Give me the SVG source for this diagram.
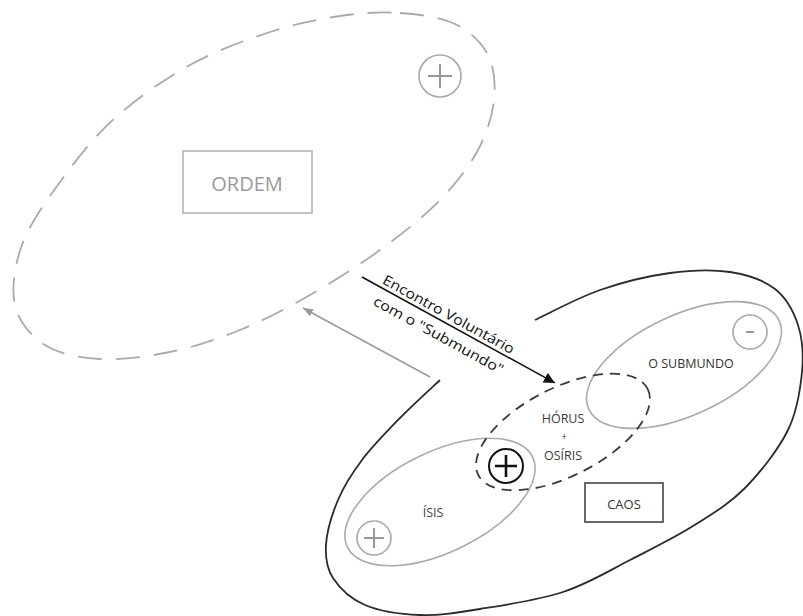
<svg xmlns="http://www.w3.org/2000/svg" width="803" height="616" viewBox="0 0 803 616">
  <defs>
    <style>
      .lbl { font-family: "Open Sans", "Liberation Sans", sans-serif; }
      .soft { fill: none; stroke: #aaaaaa; stroke-width: 1.6; }
      .ink { fill: none; stroke: #2b2b2b; stroke-width: 1.8; }
      .dash-big { fill: none; stroke: #aaaaaa; stroke-width: 1.8; stroke-dasharray: 24 14; }
      .dash-small { fill: none; stroke: #3a3a3a; stroke-width: 1.8; stroke-dasharray: 10 7; }
      .sign-soft { stroke: #999999; stroke-width: 2; fill: none; }
      .sign-ink { stroke: #111111; stroke-width: 2.6; fill: none; }
    </style>
    <marker id="head-ink" viewBox="0 0 10 10" refX="10" refY="5" markerWidth="11" markerHeight="11" markerUnits="userSpaceOnUse" orient="auto">
      <path d="M0,0 L10,5 L0,10 z" fill="#111111"/>
    </marker>
    <marker id="head-soft" viewBox="0 0 10 10" refX="10" refY="5" markerWidth="10" markerHeight="10" markerUnits="userSpaceOnUse" orient="auto">
      <path d="M0,1 L10,5 L0,9 z" fill="#999999"/>
    </marker>
  </defs>

  <rect width="803" height="616" fill="#ffffff"/>

  <!-- Order: dashed egg-shaped field with its positive pole -->
  <g id="ordem">
    <path class="dash-big" d="M400,13 C419.2,14.3 440.3,17 455,24 C469.7,31 481.5,42.3 488,55 C494.5,67.7 495.7,84.2 494,100 C492.3,115.8 487,133.3 478,150 C469,166.7 456.3,183.3 440,200 C423.7,216.7 401.7,234.2 380,250 C358.3,265.8 333.3,281.7 310,295 C286.7,308.3 263.3,320.5 240,330 C216.7,339.5 193.3,347.2 170,352 C146.7,356.8 120.8,360.2 100,359 C79.2,357.8 59.2,354 45,345 C30.8,336 18.8,321.7 15,305 C11.2,288.3 14.5,265.5 22,245 C29.5,224.5 44.5,203.2 60,182 C75.5,160.8 93.3,137.5 115,118 C136.7,98.5 164.2,79.3 190,65 C215.8,50.7 245,40.2 270,32 C295,23.8 318.3,19.2 340,16 C361.7,12.8 380.8,11.7 400,13 Z"/>
    <rect x="183" y="151" width="129" height="62" fill="none" stroke="#b5b5b5" stroke-width="1.6"/>
    <text class="lbl" x="247" y="191" font-size="20" fill="#9a9a9a" text-anchor="middle">ORDEM</text>
    <circle cx="440" cy="76" r="21" fill="none" stroke="#a8a8a8" stroke-width="1.6"/>
    <path class="sign-soft" d="M428,76 H452 M440,64 V88"/>
  </g>

  <!-- Chaos: open outline with a gap where the descent enters -->
  <g id="caos">
    <path class="ink" d="M535,320 C545.8,315 577.5,297.8 600,290 C622.5,282.2 648.3,276 670,273 C691.7,270 712.5,269.3 730,272 C747.5,274.7 763.7,280.2 775,289 C786.3,297.8 793.5,311.2 798,325 C802.5,338.8 803.7,354.5 802,372 C800.3,389.5 797.5,410.7 788,430 C778.5,449.3 760.8,472 745,488 C729.2,504 712.2,514 693,526 C673.8,538 651.7,548.8 630,560 C608.3,571.2 588,583.8 563,592 C538,600.2 503.8,605.2 480,609 C456.2,612.8 439.2,615.7 420,615 C400.8,614.3 379.5,611.2 365,605 C350.5,598.8 339.5,588 333,578 C326.5,568 325.2,558 326,545 C326.8,532 332,514.2 338,500 C344,485.8 351.7,473.7 362,460 C372.3,446.3 387,431.3 400,418 C413,404.7 433.3,386.3 440,380"/>
    <rect x="585" y="483" width="78" height="39" fill="none" stroke="#444444" stroke-width="1.6"/>
    <text class="lbl" x="624" y="509" font-size="13" fill="#333333" text-anchor="middle">CAOS</text>
  </g>

  <!-- Isis -->
  <g id="isis">
    <ellipse class="soft" cx="440" cy="502" rx="103" ry="50" transform="rotate(-26 440 502)"/>
    <text class="lbl" x="433" y="517" font-size="12.5" fill="#444444" text-anchor="middle">ÍSIS</text>
    <circle cx="374" cy="538" r="17" fill="none" stroke="#a8a8a8" stroke-width="1.6"/>
    <path class="sign-soft" d="M364,538 H384 M374,528 V548"/>
  </g>

  <!-- The underworld and its negative pole -->
  <g id="submundo">
    <ellipse class="soft" cx="684" cy="365" rx="105" ry="50" transform="rotate(-25 684 365)"/>
    <text class="lbl" x="691" y="368" font-size="12.5" fill="#333333" text-anchor="middle">O SUBMUNDO</text>
    <circle cx="750" cy="332" r="17" fill="none" stroke="#a8a8a8" stroke-width="1.6"/>
    <path class="sign-soft" d="M746,332 H754"/>
  </g>

  <!-- Horus + Osiris, bridging Isis and the underworld -->
  <g id="horus-osiris">
    <ellipse class="dash-small" cx="563" cy="432" rx="95" ry="44" transform="rotate(-27 563 432)"/>
    <text class="lbl" x="563" y="423" font-size="12.5" fill="#3a3a3a" text-anchor="middle">HÓRUS</text>
    <text class="lbl" x="564" y="440" font-size="10" fill="#3a3a3a" text-anchor="middle">+</text>
    <text class="lbl" x="563" y="460" font-size="12.5" fill="#3a3a3a" text-anchor="middle">OSÍRIS</text>
    <circle cx="506" cy="466" r="17" fill="none" stroke="#111111" stroke-width="2"/>
    <path class="sign-ink" d="M495,466 H517 M506,455 V477"/>
  </g>

  <!-- Connectors -->
  <g id="connectors">
    <line x1="430" y1="377" x2="303" y2="308" stroke="#9a9a9a" stroke-width="1.5" marker-end="url(#head-soft)"/>
    <g transform="translate(362 277) rotate(28.78)">
      <line x1="0" y1="0" x2="220" y2="0" stroke="#111111" stroke-width="1.6" marker-end="url(#head-ink)"/>
      <text class="lbl" x="94" y="-4" font-size="14" fill="#111111" text-anchor="middle" textLength="148" lengthAdjust="spacingAndGlyphs">Encontro Voluntário</text>
      <text class="lbl" x="95" y="19" font-size="14" fill="#111111" text-anchor="middle" textLength="146" lengthAdjust="spacingAndGlyphs">com o "Submundo"</text>
    </g>
  </g>
</svg>
